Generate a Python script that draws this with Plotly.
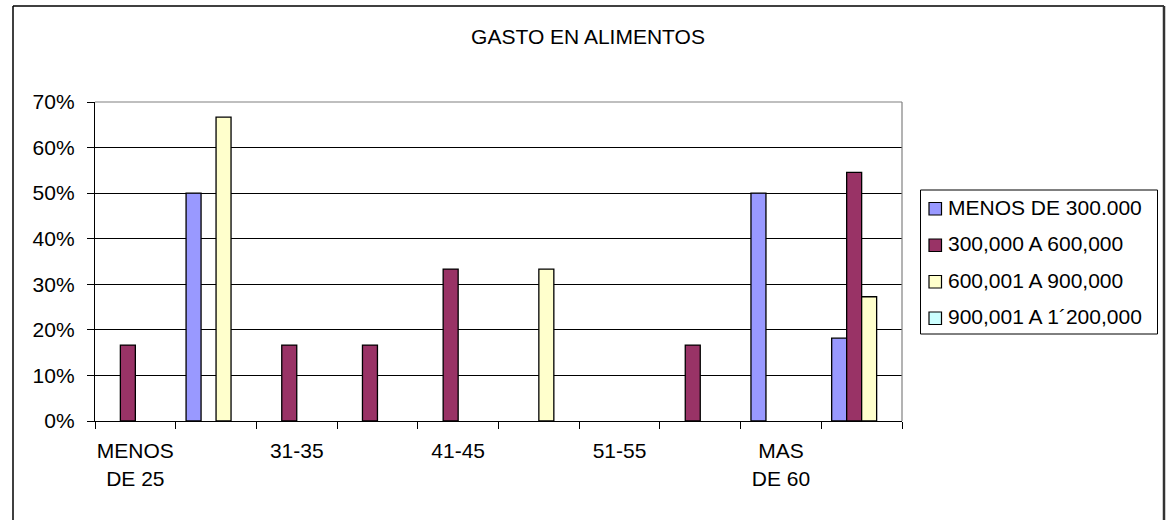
import plotly.graph_objects as go

# Age brackets (only every other label is printed on the axis)
categories = ["MENOS DE 25", "26-30", "31-35", "36-40", "41-45",
              "46-50", "51-55", "56-60", "MAS DE 60", "TOTAL"]
tick_labels = ["MENOS<br>DE 25", "", "31-35", "", "41-45",
               "", "51-55", "", "MAS<br>DE 60", ""]

series_names = ["MENOS DE 300.000", "300,000 A 600,000",
                "600,001 A 900,000", "900,001 A 1´200,000"]
menos_300 = [0.0, 0.50, 0.0, 0.0, 0.0, 0.0, 0.0, 0.0, 0.50, 0.1818]
de_300_a_600 = [0.1667, 0.0, 0.1667, 0.1667, 0.3333, 0.0, 0.0, 0.1667, 0.0, 0.5455]
de_600_a_900 = [0.0, 0.6667, 0.0, 0.0, 0.0, 0.3333, 0.0, 0.0, 0.0, 0.2727]
de_900_a_1200 = [0.0, 0.0, 0.0, 0.0, 0.0, 0.0, 0.0, 0.0, 0.0, 0.0]
series_values = [menos_300, de_300_a_600, de_600_a_900, de_900_a_1200]
colors = ["#9999FF", "#993366", "#FFFFCC", "#CCFFFF"]

FONT = "Arial, 'Liberation Sans', sans-serif"
FS = 21

# plot-area geometry in pixels
W, H = 1169, 520
L, R, T, B = 95, 902, 102, 421


def px(x):
    return (x - L) / (R - L)


def py(y):
    return (B - y) / (B - T)


fig = go.Figure()
for name, vals, col in zip(series_names, series_values, colors):
    # empty bars get no outline so nothing is drawn for them
    outline = [1.3 if v > 0 else 0 for v in vals]
    fig.add_trace(go.Bar(
        x=categories, y=vals, name=name,
        marker=dict(color=col, line=dict(color="black", width=outline)),
        showlegend=False,
    ))

shapes = []
# outer chart frame
shapes.append(dict(type="line", xref="paper", yref="paper",
                   x0=px(13), x1=px(1164), y0=py(6), y1=py(6),
                   line=dict(color="black", width=1.5)))
shapes.append(dict(type="line", xref="paper", yref="paper",
                   x0=px(13), x1=px(13), y0=py(6), y1=py(530),
                   line=dict(color="black", width=1.5)))
shapes.append(dict(type="line", xref="paper", yref="paper",
                   x0=px(1164), x1=px(1164), y0=py(6), y1=py(530),
                   line=dict(color="#333333", width=2.5)))
# grey plot-area border (top and right)
shapes.append(dict(type="line", xref="paper", yref="paper",
                   x0=0, x1=1, y0=1, y1=1,
                   line=dict(color="#808080", width=1.2)))
shapes.append(dict(type="line", xref="paper", yref="paper",
                   x0=1, x1=1, y0=0, y1=1,
                   line=dict(color="#808080", width=1.2)))

# legend box
shapes.append(dict(type="rect", xref="paper", yref="paper",
                   x0=px(920.5), x1=px(1157.5), y0=py(190), y1=py(334),
                   line=dict(color="black", width=1), fillcolor="white"))
annotations = []
item_y = [209, 245.5, 282, 318.5]
for name, col, yc in zip(series_names, colors, item_y):
    shapes.append(dict(type="rect", xref="paper", yref="paper",
                       x0=px(929), x1=px(941.5), y0=py(yc - 6.5), y1=py(yc + 6),
                       line=dict(color="black", width=1.2), fillcolor=col))
    annotations.append(dict(text=name, xref="paper", yref="paper",
                            x=px(946), y=py(yc - 2), xanchor="left",
                            yanchor="middle", showarrow=False,
                            font=dict(family=FONT, size=FS, color="black")))

fig.update_layout(
    width=W, height=H,
    margin=dict(l=L, r=W - R, t=T, b=H - B, pad=0),
    paper_bgcolor="white", plot_bgcolor="white",
    bargap=0.257, bargroupgap=0,
    font=dict(family=FONT, size=FS, color="black"),
    title=dict(text="GASTO EN ALIMENTOS", xref="container", yref="container",
               x=588 / W, xanchor="center", y=1 - 37 / H, yanchor="middle",
               font=dict(family=FONT, size=FS, color="black")),
    shapes=shapes,
    annotations=annotations,
    xaxis=dict(type="category", tickmode="array", tickvals=categories,
               ticktext=tick_labels, tickson="boundaries", ticks="outside",
               ticklen=7, tickcolor="black", showline=True, linecolor="black",
               linewidth=1.3, showgrid=False, tickangle=0,
               ticklabelstandoff=11,
               tickfont=dict(family=FONT, size=FS, color="black")),
    yaxis=dict(range=[0, 0.7], dtick=0.1, tickformat=".0%", ticks="outside",
               ticklen=7, tickcolor="black", showline=True, linecolor="black",
               linewidth=1.3, showgrid=True, gridcolor="black", gridwidth=1,
               zeroline=False, ticklabelstandoff=8,
               tickfont=dict(family=FONT, size=FS, color="black")),
)

fig.write_html("out.html")
